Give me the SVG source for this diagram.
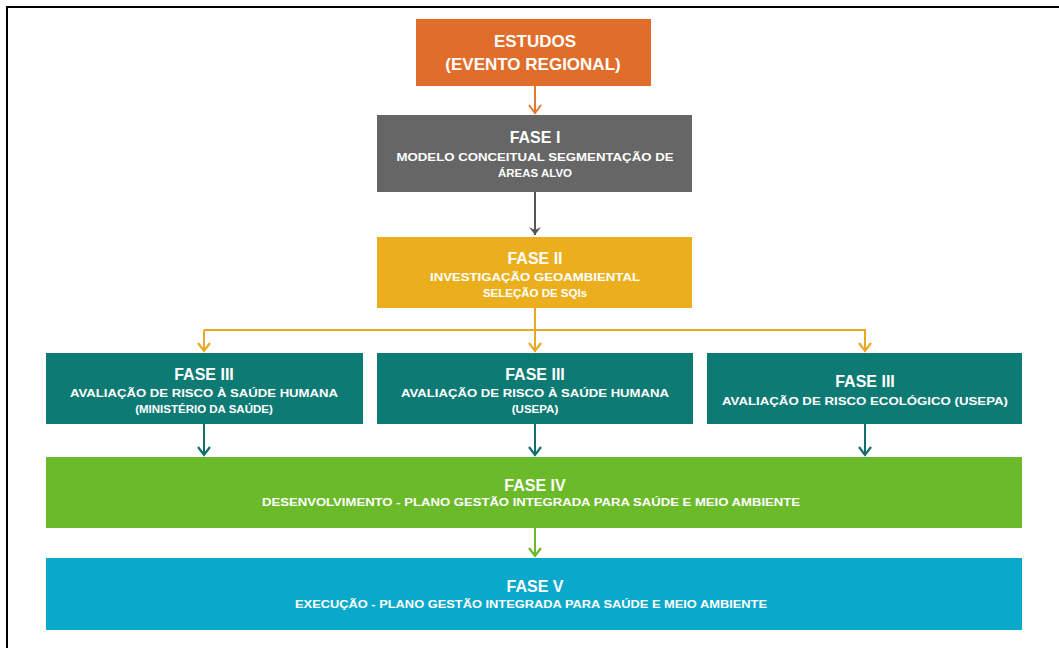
<svg xmlns="http://www.w3.org/2000/svg" width="1059" height="648" viewBox="0 0 1059 648">
<defs>
<style>
.t{font-family:"Liberation Sans",Arial,sans-serif;font-weight:bold;fill:#ffffff;text-anchor:middle}
.h{font-size:16px}
.s{font-size:11.5px}
.e{font-size:17px}
.c{fill:none;stroke-width:2}
</style>
<marker id="aO" markerWidth="14" markerHeight="14" refX="10" refY="7" orient="auto" markerUnits="userSpaceOnUse" viewBox="0 0 14 14"><path d="M2,1 L10,7 L2,13" fill="none" stroke="#e07a2e" stroke-width="2"/></marker>
<marker id="aG" markerWidth="14" markerHeight="14" refX="10" refY="7" orient="auto" markerUnits="userSpaceOnUse" viewBox="0 0 14 14"><path d="M2,1 L10,7 L2,13 L5,7 Z" fill="#555555"/></marker>
<marker id="aY" markerWidth="14" markerHeight="14" refX="10" refY="7" orient="auto" markerUnits="userSpaceOnUse" viewBox="0 0 14 14"><path d="M2,1 L10,7 L2,13" fill="none" stroke="#e9a825" stroke-width="2.2"/></marker>
<marker id="aT" markerWidth="14" markerHeight="14" refX="10" refY="7" orient="auto" markerUnits="userSpaceOnUse" viewBox="0 0 14 14"><path d="M2,1 L10,7 L2,13" fill="none" stroke="#11706c" stroke-width="2.2"/></marker>
<marker id="aL" markerWidth="14" markerHeight="14" refX="10" refY="7" orient="auto" markerUnits="userSpaceOnUse" viewBox="0 0 14 14"><path d="M2,1 L10,7 L2,13" fill="none" stroke="#6bb82b" stroke-width="2.2"/></marker>
</defs>
<rect x="0" y="0" width="1059" height="648" fill="#ffffff"/>
<path d="M7,648 L7,7 L1059,7" fill="none" stroke="#000000" stroke-width="2"/>

<g id="connectors">
<line class="c" x1="535" y1="86" x2="535" y2="113" stroke="#e07a2e" marker-end="url(#aO)"/>
<line class="c" x1="535" y1="192" x2="535" y2="235" stroke="#555555" marker-end="url(#aG)"/>
<path class="c" d="M535,308 L535,330" stroke="#e9a825"/>
<path class="c" d="M204,330 L865,330 L865,351" stroke="#e9a825" marker-end="url(#aY)"/>
<path class="c" d="M204,330 L204,351" stroke="#e9a825" marker-end="url(#aY)"/>
<path class="c" d="M535,330 L535,351" stroke="#e9a825" marker-end="url(#aY)"/>
<line class="c" x1="204" y1="424" x2="204" y2="455" stroke="#11706c" marker-end="url(#aT)"/>
<line class="c" x1="535" y1="424" x2="535" y2="455" stroke="#11706c" marker-end="url(#aT)"/>
<line class="c" x1="865" y1="424" x2="865" y2="455" stroke="#11706c" marker-end="url(#aT)"/>
<line class="c" x1="535" y1="528" x2="535" y2="556" stroke="#6bb82b" marker-end="url(#aL)"/>
</g>

<g id="estudos">
<rect x="416" y="19" width="235" height="67" fill="#e06d2a"/>
<text class="t e" x="535" y="47">ESTUDOS</text>
<text class="t e" x="533" y="70">(EVENTO REGIONAL)</text>
</g>

<g id="fase1">
<rect x="377" y="115" width="315" height="77" fill="#666666"/>
<text class="t h" x="535" y="143">FASE I</text>
<text class="t s" x="535" y="161" textLength="277" lengthAdjust="spacingAndGlyphs">MODELO CONCEITUAL SEGMENTAÇÃO DE</text>
<text class="t s" x="535" y="177">ÁREAS ALVO</text>
</g>

<g id="fase2">
<rect x="377" y="237" width="315" height="71" fill="#ebaf1e"/>
<text class="t h" x="535" y="264">FASE II</text>
<text class="t s" x="535" y="281" textLength="210" lengthAdjust="spacingAndGlyphs">INVESTIGAÇÃO GEOAMBIENTAL</text>
<text class="t s" x="535" y="297">SELEÇÃO DE SQIs</text>
</g>

<g id="fase3a">
<rect x="46" y="353" width="317" height="71" fill="#0e7a74"/>
<text class="t h" x="204" y="380">FASE III</text>
<text class="t s" x="204" y="397" textLength="268" lengthAdjust="spacingAndGlyphs">AVALIAÇÃO DE RISCO À SAÚDE HUMANA</text>
<text class="t s" x="204" y="413">(MINISTÉRIO DA SAÚDE)</text>
</g>

<g id="fase3b">
<rect x="377" y="353" width="316" height="71" fill="#0e7a74"/>
<text class="t h" x="535" y="380">FASE III</text>
<text class="t s" x="535" y="397" textLength="268" lengthAdjust="spacingAndGlyphs">AVALIAÇÃO DE RISCO À SAÚDE HUMANA</text>
<text class="t s" x="535" y="413">(USEPA)</text>
</g>

<g id="fase3c">
<rect x="707" y="353" width="315" height="71" fill="#0e7a74"/>
<text class="t h" x="865" y="387">FASE III</text>
<text class="t s" x="865" y="405" textLength="286" lengthAdjust="spacingAndGlyphs">AVALIAÇÃO DE RISCO ECOLÓGICO (USEPA)</text>
</g>

<g id="fase4">
<rect x="46" y="457" width="976" height="71" fill="#6bba2a"/>
<text class="t h" x="535" y="491">FASE IV</text>
<text class="t s" x="531" y="506" textLength="538" lengthAdjust="spacingAndGlyphs">DESENVOLVIMENTO - PLANO GESTÃO INTEGRADA PARA SAÚDE E MEIO AMBIENTE</text>
</g>

<g id="fase5">
<rect x="46" y="558" width="976" height="72" fill="#0aa9cb"/>
<text class="t h" x="535" y="592">FASE V</text>
<text class="t s" x="531" y="608" textLength="472" lengthAdjust="spacingAndGlyphs">EXECUÇÃO - PLANO GESTÃO INTEGRADA PARA SAÚDE E MEIO AMBIENTE</text>
</g>
</svg>
